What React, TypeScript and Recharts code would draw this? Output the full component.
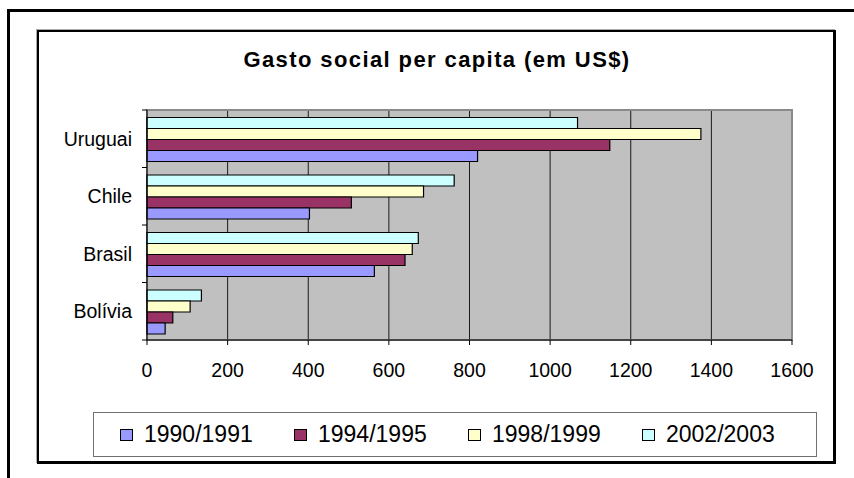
import React from "react";
import {
  BarChart,
  Bar,
  XAxis,
  YAxis,
  CartesianGrid,
  ReferenceArea,
} from "recharts";

const countries = ["Uruguai", "Chile", "Brasil", "Bolívia"];
const v1990 = [820, 403, 564, 45];
const v1994 = [1148, 507, 640, 64];
const v1998 = [1374, 686, 658, 107];
const v2002 = [1068, 762, 673, 135];
const xTicks = [0, 200, 400, 600, 800, 1000, 1200, 1400, 1600];

const seriesNames = ["1990/1991", "1994/1995", "1998/1999", "2002/2003"];
const seriesColors = ["#9999FF", "#993366", "#FFFFCC", "#CCFFFF"];
const seriesKeys = ["a", "b", "c", "d"];

const data = countries.map((country, i) => ({
  country,
  a: v1990[i],
  b: v1994[i],
  c: v1998[i],
  d: v2002[i],
}));

const font = "'Liberation Sans', Arial, sans-serif";
const TICK_SIZE = 5;
const TICK_MARGIN = 10;

// category labels in the middle of the band, tick marks on the band edges (Excel style)
const CountryTick = (props: any) => {
  const { x, y, payload, index, visibleTicksCount } = props;
  const half = payload && payload.offset ? payload.offset : 0;
  const lx1 = x + TICK_MARGIN;
  const lx2 = x + TICK_MARGIN + TICK_SIZE;
  return (
    <g>
      <text
        x={x}
        y={y}
        dy="0.355em"
        textAnchor="end"
        fill="#000"
        style={{ fontFamily: font, fontSize: 19.5 }}
      >
        {payload.value}
      </text>
      {half > 0 && (
        <line x1={lx1} x2={lx2} y1={y - half} y2={y - half} stroke="#000" />
      )}
      {half > 0 && index === visibleTicksCount - 1 && (
        <line x1={lx1} x2={lx2} y1={y + half} y2={y + half} stroke="#000" />
      )}
    </g>
  );
};

const App = () => (
  <div
    style={{
      position: "absolute",
      left: 0,
      top: 0,
      width: 854,
      height: 478,
      overflow: "hidden",
      background: "#fff",
      fontFamily: font,
    }}
  >
    {/* outer frame */}
    <div
      style={{
        position: "absolute",
        left: 7,
        top: 9,
        width: 900,
        height: 500,
        borderLeft: "3px solid #000",
        borderTop: "3px solid #000",
      }}
    />
    {/* chart box */}
    <div
      style={{
        position: "absolute",
        left: 37,
        top: 30,
        width: 799,
        height: 434,
        boxSizing: "border-box",
        borderLeft: "2px solid #000",
        borderTop: "2px solid #000",
        borderRight: "3px solid #000",
        borderBottom: "3px solid #000",
        boxShadow: "-1px -1px 0 #aaa",
      }}
    />
    <div
      style={{
        position: "absolute",
        left: 0,
        width: 874,
        top: 49,
        textAlign: "center",
        fontSize: 22,
        lineHeight: "22px",
        fontWeight: "bold",
        letterSpacing: 1.4,
        color: "#000",
      }}
    >
      Gasto social per capita (em US$)
    </div>

    <div style={{ position: "absolute", left: 0, top: 0 }}>
      <BarChart
        width={854}
        height={478}
        data={data}
        layout="vertical"
        margin={{ top: 110, right: 62, left: 47, bottom: 98 }}
        barCategoryGap="13%"
        barGap={0}
      >
        <CartesianGrid
          horizontal={false}
          stroke="#1a1a1a"
          fill="#C0C0C0"
          fillOpacity={1}
        />
        <ReferenceArea
          x1={0}
          x2={1600}
          fill="none"
          stroke="#8a8a8a"
          strokeWidth={2}
        />
        <XAxis
          type="number"
          domain={[0, 1600]}
          ticks={xTicks}
          interval={0}
          height={40}
          tickSize={TICK_SIZE}
          tickMargin={18}
          axisLine={{ stroke: "#000" }}
          tickLine={{ stroke: "#000" }}
          tick={{ fill: "#000", fontSize: 19.5, fontFamily: font }}
        />
        <YAxis
          type="category"
          dataKey="country"
          width={100}
          interval={0}
          tickSize={TICK_SIZE}
          tickMargin={TICK_MARGIN}
          axisLine={{ stroke: "#000" }}
          tickLine={false}
          tick={<CountryTick />}
        />
        {[3, 2, 1, 0].map((i) => (
          <Bar
            key={seriesKeys[i]}
            dataKey={seriesKeys[i]}
            name={seriesNames[i]}
            fill={seriesColors[i]}
            stroke="#000"
            strokeWidth={1.2}
            isAnimationActive={false}
          />
        ))}
      </BarChart>
    </div>

    {/* legend */}
    <div
      style={{
        position: "absolute",
        left: 93,
        top: 412,
        width: 724,
        height: 45,
        boxSizing: "border-box",
        border: "1px solid #707070",
        display: "flex",
        alignItems: "center",
        paddingLeft: 26,
      }}
    >
      {seriesNames.map((name, i) => (
        <div
          key={name}
          style={{ width: 181, display: "flex", alignItems: "center" }}
        >
          <span
            style={{
              display: "inline-block",
              width: 13,
              height: 12,
              boxSizing: "border-box",
              border: "1px solid #000",
              background: seriesColors[i],
              marginRight: 11,
            }}
          />
          <span style={{ fontSize: 23, lineHeight: "23px", color: "#000" }}>
            {name}
          </span>
        </div>
      ))}
    </div>
  </div>
);

export default App;
